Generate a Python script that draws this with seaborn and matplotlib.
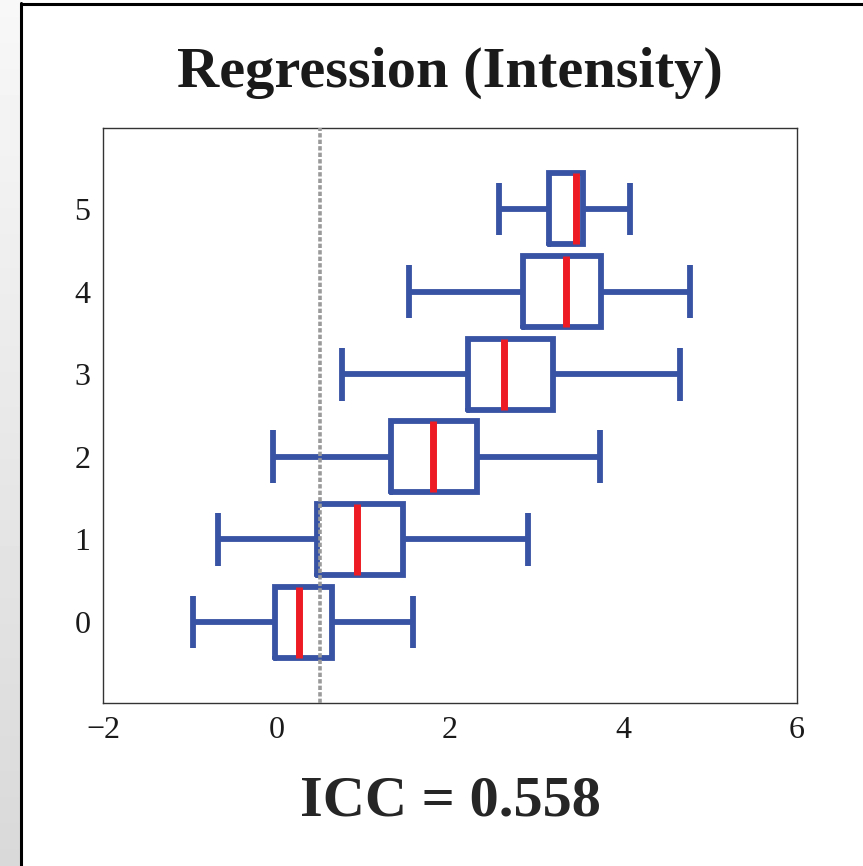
"""
Regression (Intensity) - horizontal box plots per rating level.
"""

import numpy as np
import pandas as pd
import matplotlib
matplotlib.use("Agg")
import matplotlib.pyplot as plt
import seaborn as sns
from matplotlib.lines import Line2D

sns.set_style("white")
plt.rcParams["font.family"] = ["Liberation Serif", "DejaVu Serif"]
plt.rcParams["text.color"] = "#1a1a1a"

# five-number summaries, one entry per level
LEVELS = [0, 1, 2, 3, 4, 5]
WHISKER_LO = [-0.96, -0.67, -0.04, 0.76, 1.53, 2.57]
Q1 = [-0.02, 0.47, 1.32, 2.21, 2.84, 3.14]
MEDIAN = [0.26, 0.93, 1.80, 2.62, 3.34, 3.45]
Q3 = [0.64, 1.46, 2.31, 3.19, 3.74, 3.53]
WHISKER_HI = [1.57, 2.90, 3.73, 4.65, 4.77, 4.08]
THRESHOLD = 0.5
TITLE = "Regression (Intensity)"
XLABEL = "ICC = 0.558"
XTICKS = [-2, 0, 2, 4, 6]

BLUE = "#3953a4"
RED = "#ed1c24"

# five points per level reproduce the summary exactly (linear percentiles)
rows = []
for lvl, lo, a, m, b, hi in zip(LEVELS, WHISKER_LO, Q1, MEDIAN, Q3, WHISKER_HI):
    for v in (lo, a, m, b, hi):
        rows.append({"level": lvl, "value": v})
df = pd.DataFrame(rows)

fig = plt.figure(figsize=(8.63, 8.66), dpi=100)

# page background: grey strip on the left, black frame
bg = fig.add_axes([0, 0, 1, 1], zorder=-5)
bg.set_xlim(0, 1)
bg.set_ylim(0, 1)
bg.axis("off")
grad = np.linspace(0.97, 0.85, 100).reshape(-1, 1)
bg.imshow(grad, cmap="gray", vmin=0, vmax=1, aspect="auto",
          extent=[0, 20 / 863, 0, 1], origin="upper")
bg.add_line(Line2D([21 / 863, 21 / 863], [0, 1 - 3 / 866], color="black", lw=2.2))
bg.add_line(Line2D([21 / 863, 1], [1 - 4 / 866, 1 - 4 / 866], color="black", lw=2.2))

ax = fig.add_axes([103 / 863, 1 - 703 / 866, 694 / 863, 575 / 866])
sns.boxplot(
    data=df, x="value", y="level", orient="h", native_scale=True,
    whis=(0, 100), width=0.86, fill=False, color=BLUE, linecolor=BLUE,
    linewidth=4.2, showfliers=False, capwidths=0.64,
    boxprops=dict(solid_joinstyle="miter"),
    capprops=dict(solid_capstyle="butt"),
    medianprops=dict(color=RED, linewidth=5.0, solid_capstyle="butt"),
    ax=ax,
)
ax.axvline(THRESHOLD, color="#9a9a9a", lw=2.6, ls=(0, (1.2, 0.6)), zorder=10)

ax.set_xlim(-2, 6)
ax.set_ylim(-0.98, 5.98)
ax.set_xticks(XTICKS)
ax.set_yticks(LEVELS)
ax.tick_params(length=0, labelsize=23, pad=9, colors="#1a1a1a")
for s in ax.spines.values():
    s.set_color("#333333")
    s.set_linewidth(1.0)
ax.set_ylabel("")
ax.set_xlabel(XLABEL, fontsize=42, fontweight="bold", labelpad=22)
ax.set_title(TITLE, fontsize=42, fontweight="bold", pad=30)

fig.savefig("out.png", dpi=100)
